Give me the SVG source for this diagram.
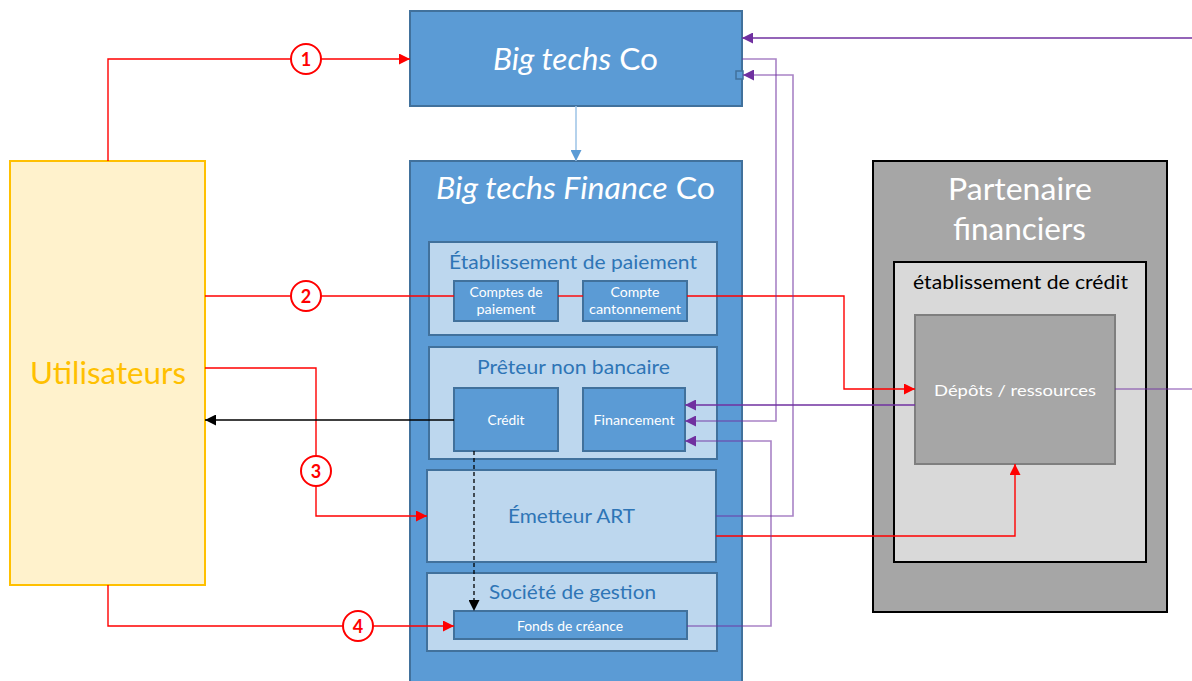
<svg xmlns="http://www.w3.org/2000/svg" width="1192" height="681" viewBox="0 0 1192 681">
  <defs>
    <style>
      text { font-family: Lato, "Open Sans", "Liberation Sans", sans-serif; text-anchor: middle; }
      .blue { fill: #5b9bd5; stroke: #41719c; stroke-width: 2; }
      .panel { fill: #bdd7ee; stroke: #41719c; stroke-width: 2; }
      .sub { fill: #5b9bd5; stroke: #41719c; stroke-width: 2; }
      .big { fill: #ffffff; font-size: 30px; }
      .ptitle { fill: #2e75b6; font-size: 20px; }
      .small { fill: #ffffff; font-size: 13px; }
      .red { fill: none; stroke: #ff0000; stroke-width: 1.4; }
      .purple { fill: none; stroke: #7030a0; stroke-width: 1.4; }
      .purple-lt { fill: none; stroke: #7030a0; stroke-opacity: 0.6; stroke-width: 1.6; }
      .num { fill: #ffffff; stroke: #ff0000; stroke-width: 2; }
      .numtxt { fill: #ff0000; font-size: 18px; font-weight: bold; }
    </style>
    <marker id="arrRed" viewBox="0 0 10 10" refX="10" refY="5" markerWidth="11" markerHeight="11" markerUnits="userSpaceOnUse" orient="auto">
      <path d="M0,0 L10,5 L0,10 Z" fill="#ff0000"/>
    </marker>
    <marker id="arrPurple" viewBox="0 0 10 10" refX="10" refY="5" markerWidth="11" markerHeight="11" markerUnits="userSpaceOnUse" orient="auto">
      <path d="M0,0 L10,5 L0,10 Z" fill="#7030a0"/>
    </marker>
    <marker id="arrBlack" viewBox="0 0 10 10" refX="10" refY="5" markerWidth="11" markerHeight="11" markerUnits="userSpaceOnUse" orient="auto">
      <path d="M0,0 L10,5 L0,10 Z" fill="#000000"/>
    </marker>
    <marker id="arrBlue" viewBox="0 0 10 10" refX="10" refY="5" markerWidth="11" markerHeight="11" markerUnits="userSpaceOnUse" orient="auto">
      <path d="M0,0 L10,5 L0,10 Z" fill="#5b9bd5"/>
    </marker>
  </defs>

  <rect width="1192" height="681" fill="#ffffff"/>

  <!-- Users -->
  <g id="utilisateurs">
    <rect x="10" y="161" width="195" height="424" fill="#fff2cc" stroke="#ffc000" stroke-width="2"/>
    <text x="108" y="384" font-size="30" fill="#ffc000" textLength="156" lengthAdjust="spacingAndGlyphs">Utilisateurs</text>
  </g>

  <!-- Parent company -->
  <g id="big-techs-co">
    <rect class="blue" x="410" y="11" width="332" height="95"/>
    <text class="big" x="575.5" y="70" textLength="165" lengthAdjust="spacingAndGlyphs"><tspan font-style="italic">Big techs</tspan> Co</text>
    <rect x="736" y="71" width="7" height="8" fill="#5b9bd5" stroke="#41719c" stroke-width="1.5"/>
  </g>

  <!-- Finance subsidiary -->
  <g id="big-techs-finance-co">
    <rect class="blue" x="410" y="161" width="332" height="530"/>
    <text class="big" x="575.5" y="199" textLength="279" lengthAdjust="spacingAndGlyphs"><tspan font-style="italic">Big techs Finance</tspan> Co</text>
  </g>

  <g id="etablissement-paiement">
    <rect class="panel" x="429" y="242" width="288" height="93"/>
    <text class="ptitle" x="573" y="269" textLength="248" lengthAdjust="spacingAndGlyphs">Établissement de paiement</text>
  </g>
  <g id="comptes-paiement">
    <rect class="sub" x="454" y="281" width="104" height="40"/>
    <text class="small" x="506" y="297" textLength="73" lengthAdjust="spacingAndGlyphs">Comptes de</text>
    <text class="small" x="506" y="314" textLength="59" lengthAdjust="spacingAndGlyphs">paiement</text>
  </g>
  <g id="compte-cantonnement">
    <rect class="sub" x="583" y="281" width="104" height="40"/>
    <text class="small" x="635" y="297" textLength="49" lengthAdjust="spacingAndGlyphs">Compte</text>
    <text class="small" x="635" y="314" textLength="92" lengthAdjust="spacingAndGlyphs">cantonnement</text>
  </g>

  <g id="preteur-non-bancaire">
    <rect class="panel" x="429" y="347" width="288" height="112"/>
    <text class="ptitle" x="573.5" y="374" textLength="193" lengthAdjust="spacingAndGlyphs">Prêteur non bancaire</text>
  </g>
  <g id="credit">
    <rect class="sub" x="454" y="388" width="104" height="63"/>
    <text class="small" x="506" y="425" textLength="37" lengthAdjust="spacingAndGlyphs">Crédit</text>
  </g>
  <g id="financement">
    <rect class="sub" x="583" y="388" width="102" height="63"/>
    <text class="small" x="634" y="425" textLength="81" lengthAdjust="spacingAndGlyphs">Financement</text>
  </g>

  <g id="emetteur-art">
    <rect class="panel" x="427" y="470" width="289" height="92"/>
    <text class="ptitle" x="571.5" y="523" font-size="22" textLength="127" lengthAdjust="spacingAndGlyphs">Émetteur ART</text>
  </g>

  <g id="societe-gestion">
    <rect class="panel" x="427" y="573" width="290" height="78"/>
    <text class="ptitle" x="572.5" y="599" font-size="22" textLength="167" lengthAdjust="spacingAndGlyphs">Société de gestion</text>
  </g>
  <g id="fonds-creance">
    <rect class="sub" x="454" y="611" width="233" height="28"/>
    <text class="small" x="570" y="631" textLength="106" lengthAdjust="spacingAndGlyphs">Fonds de créance</text>
  </g>

  <!-- Financial partners -->
  <g id="partenaire-financiers">
    <rect x="873" y="161" width="294" height="451" fill="#a6a6a6" stroke="#000000" stroke-width="2"/>
    <text x="1020" y="200" font-size="30" fill="#ffffff" textLength="144" lengthAdjust="spacingAndGlyphs">Partenaire</text>
    <text x="1019.5" y="240" font-size="30" fill="#ffffff" textLength="133" lengthAdjust="spacingAndGlyphs">financiers</text>
  </g>
  <g id="etablissement-credit">
    <rect x="894" y="262" width="252" height="300" fill="#d9d9d9" stroke="#000000" stroke-width="2"/>
    <text x="1020.5" y="289" font-size="19" fill="#000000" textLength="215" lengthAdjust="spacingAndGlyphs">établissement de crédit</text>
  </g>
  <g id="depots-ressources">
    <rect x="915" y="315" width="200" height="149" fill="#a6a6a6" stroke="#7f7f7f" stroke-width="2"/>
    <text x="1015" y="396" font-size="16" fill="#ffffff" textLength="162" lengthAdjust="spacingAndGlyphs">Dépôts / ressources</text>
  </g>

  <!-- Connectors -->
  <g id="connectors">
    <!-- parent to subsidiary -->
    <path d="M576,106 V161" fill="none" stroke="#9dc3e6" stroke-width="1.5" marker-end="url(#arrBlue)"/>

    <!-- flow 1 -->
    <path class="red" d="M108,161 V59 H410" marker-end="url(#arrRed)"/>
    <!-- flow 2 -->
    <path class="red" d="M205,296 H454"/>
    <path class="red" d="M558,296 H583"/>
    <path class="red" d="M687,296 H844 V389 H915" marker-end="url(#arrRed)"/>
    <!-- flow 3 -->
    <path class="red" d="M205,368 H316 V516 H427" marker-end="url(#arrRed)"/>
    <!-- flow 4 -->
    <path class="red" d="M108,585 V626 H454" marker-end="url(#arrRed)"/>
    <!-- ART to deposits -->
    <path class="red" d="M716,536 H1015 V464" marker-end="url(#arrRed)"/>

    <!-- credit to users -->
    <path d="M454,420 H205" fill="none" stroke="#000000" stroke-width="1.4" marker-end="url(#arrBlack)"/>
    <!-- credit to receivables fund -->
    <path d="M474,451 V611" fill="none" stroke="#000000" stroke-width="1.3" stroke-dasharray="4,3" marker-end="url(#arrBlack)"/>

    <!-- purple funding flows -->
    <path class="purple" d="M1192,38 H742" marker-end="url(#arrPurple)"/>
    <path class="purple-lt" d="M742,59 H776 V421 H685" marker-end="url(#arrPurple)"/>
    <path class="purple-lt" d="M716,516 H793 V75 H743" marker-end="url(#arrPurple)"/>
    <path class="purple" d="M915,405 H685" marker-end="url(#arrPurple)"/>
    <path class="purple-lt" d="M687,626 H771 V441 H685" marker-end="url(#arrPurple)"/>
    <path class="purple-lt" d="M1115,389 H1192"/>

    <!-- step numbers -->
    <circle class="num" cx="306" cy="59" r="15"/>
    <text class="numtxt" x="306" y="65.5">1</text>
    <circle class="num" cx="306" cy="296" r="15"/>
    <text class="numtxt" x="306" y="302.5">2</text>
    <circle class="num" cx="316" cy="471" r="15"/>
    <text class="numtxt" x="316" y="477.5">3</text>
    <circle class="num" cx="358" cy="626" r="15"/>
    <text class="numtxt" x="358" y="632.5">4</text>
  </g>
</svg>
